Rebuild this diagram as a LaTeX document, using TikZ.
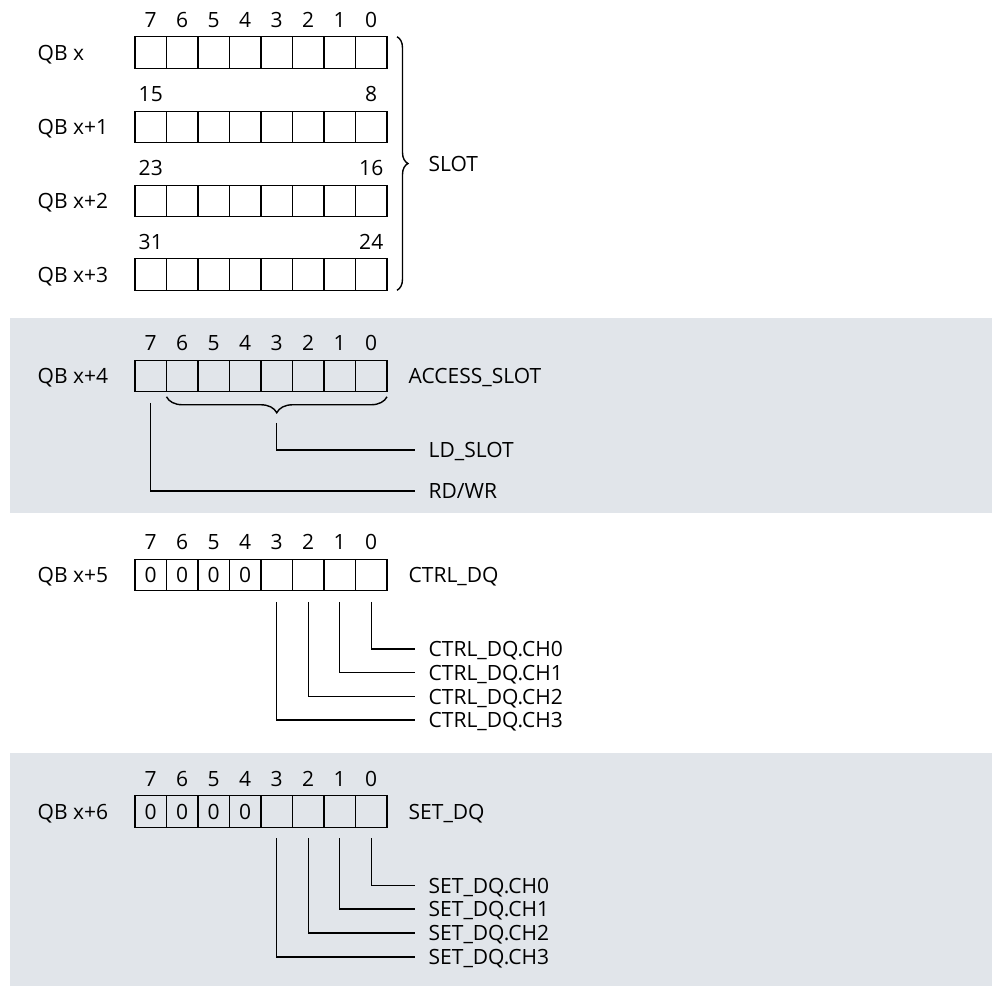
\documentclass[tikz,border=0pt]{standalone}
\usepackage{fontspec}
\setmainfont{Open Sans}
\usepackage{tikz}
\usetikzlibrary{positioning, decorations.pathreplacing, calc}
\definecolor{bandgray}{RGB}{225,229,234}

\begin{document}
\begin{tikzpicture}[x=0.5pt, y=-0.5pt, line width=0.7pt,
    every node/.style={font=\fontsize{10.5}{12.5}\selectfont},
    cellbox/.style={draw, minimum width=15.75pt, minimum height=15.75pt, inner sep=0pt, outer sep=0pt},
    lbl/.style={inner sep=0pt, text height=7.5pt, text depth=0pt},
    sig/.style={lbl, anchor=west, inner xsep=6.5pt}]
    \useasboundingbox (0,0) rectangle (992,986);

    % Bands
    \path[fill=bandgray] (10,318) rectangle (992,513);
    \path[fill=bandgray] (10,753) rectangle (992,986);

    % Registers
    \foreach \r/\y in {1/52.5, 2/127, 3/201, 4/274.5, 5/376, 6/575, 7/811.5}
      \foreach \b in {0,...,7}
        \node[cellbox] (r\r-\b) at ({150.75+31.5*(7-\b)}, \y) {};
    \foreach \r/\t in {1/QB x, 2/QB x+1, 3/QB x+2, 4/QB x+3, 5/QB x+4, 6/QB x+5, 7/QB x+6}
      \node[lbl, anchor=west] (qb\r) at (37,0 |- r\r-7) {\t};
    \foreach \r in {6,7}
      \foreach \b in {4,...,7}
        \node[lbl] (z\r-\b) at (r\r-\b) {0};

    % Bit numbers
    \foreach \r in {1,5,6,7}
      \foreach \b in {0,...,7}
        \node[lbl, above=4.3pt of r\r-\b] (n\r-\b) {\b};
    \node[lbl, above=4.3pt of r2-7] (n2-7) {15};
    \node[lbl, above=4.3pt of r2-0] (n2-0) {8};
    \node[lbl, above=4.3pt of r3-7] (n3-7) {23};
    \node[lbl, above=4.3pt of r3-0] (n3-0) {16};
    \node[lbl, above=4.3pt of r4-7] (n4-7) {31};
    \node[lbl, above=4.3pt of r4-0] (n4-0) {24};

    % SLOT
    \draw[decorate, decoration={brace, amplitude=5.5pt}] ([xshift=5pt]r1-0.north east) -- ([xshift=5pt]r4-0.south east);
    \node[lbl, anchor=west] (slot) at (428,163.5) {SLOT};

    % ACCESS_SLOT
    \node[lbl, right=10.5pt of r5-0] (access) {ACCESS\_SLOT};
    \draw[decorate, decoration={brace, amplitude=8pt}] ([yshift=-2.5pt]r5-0.south east) -- ([yshift=-2.5pt]r5-6.south west);
    \coordinate (ldtop) at ([yshift=-15.5pt]r5-3.south);
    \node[sig] (ldslot) at (415,450) {LD\_SLOT};
    \node[sig] (rdwr) at (415,491) {RD/WR};
    \draw (ldtop) |- (ldslot.west);
    \draw ([yshift=-5.5pt]r5-7.south) |- (rdwr.west);

    % CTRL_DQ
    \node[lbl, right=10.5pt of r6-0] (ctrl) {CTRL\_DQ};
    \foreach \b/\y in {0/649, 1/672.5, 2/696.5, 3/720} {
      \node[sig] (ctrl\b) at (415,\y) {CTRL\_DQ.CH\b};
      \draw ([yshift=-5.5pt]r6-\b.south) |- (ctrl\b.west);
    }

    % SET_DQ
    \node[lbl, right=10.5pt of r7-0] (set) {SET\_DQ};
    \foreach \b/\y in {0/885.5, 1/909, 2/933, 3/957} {
      \node[sig] (set\b) at (415,\y) {SET\_DQ.CH\b};
      \draw ([yshift=-5.5pt]r7-\b.south) |- (set\b.west);
    }
  \end{tikzpicture}
\end{document}
